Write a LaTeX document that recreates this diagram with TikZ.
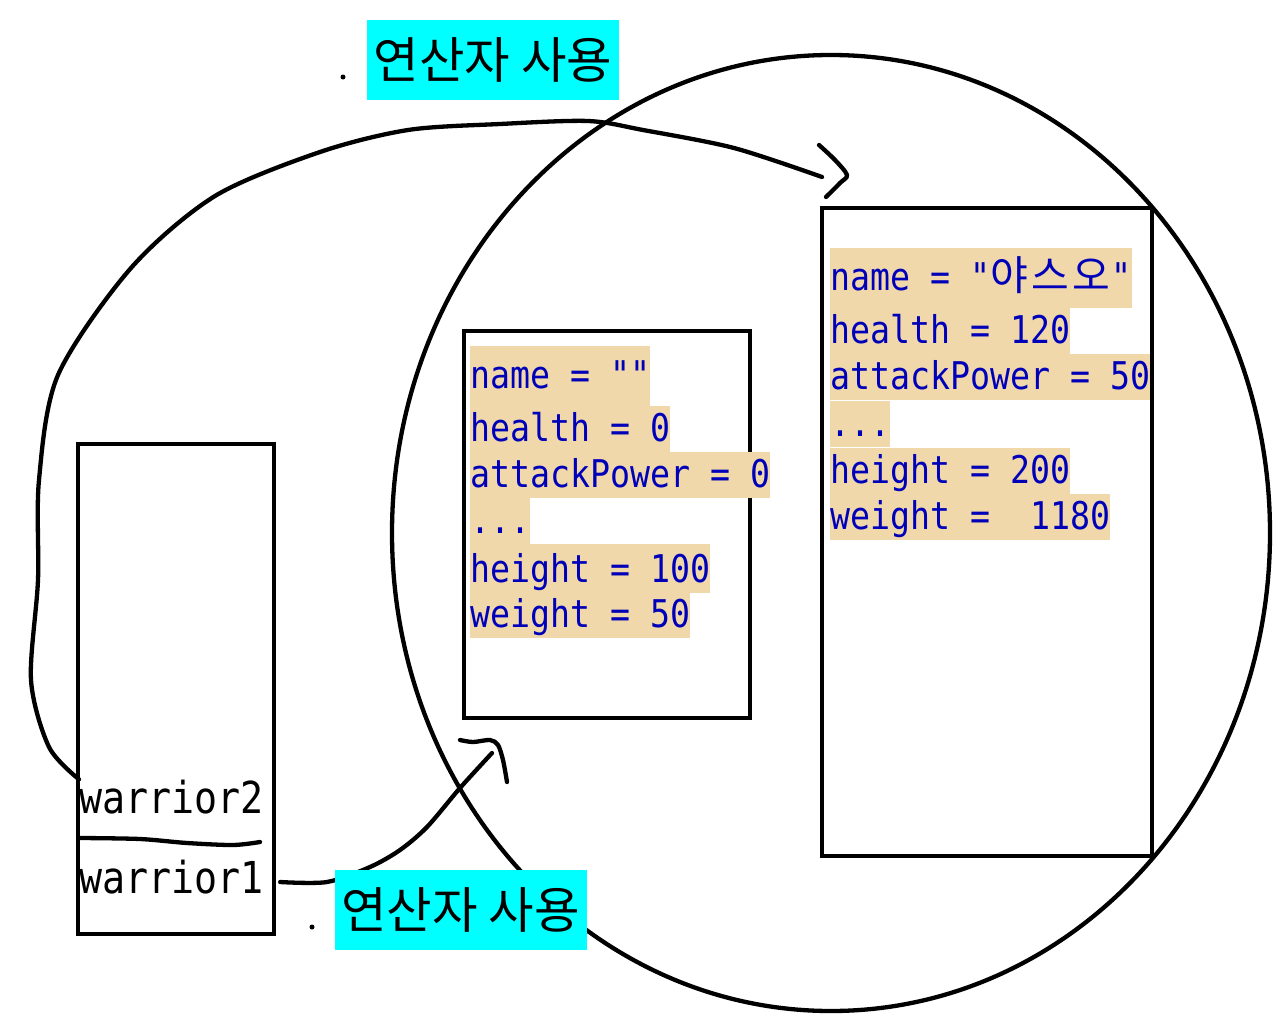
\documentclass[tikz,border=0pt]{standalone}
\usepackage{fontspec}
\newfontfamily\codefam[FakeStretch=0.87]{DejaVu Sans Mono}
\newfontfamily\kofam{Noto Sans CJK KR}
\definecolor{codeblue}{RGB}{0,0,185}
\definecolor{codebg}{RGB}{240,216,170}
\definecolor{labelcyan}{RGB}{0,255,255}
\newcommand\codefont{\codefam\fontsize{38.2}{44}\selectfont}
\newcommand\warfont{\codefam\fontsize{44}{50}\selectfont}
\newcommand\labfont{\kofam\fontsize{49.5}{54}\selectfont}
\newcommand\hangul[1]{{\kofam\fontsize{41}{44}\selectfont\addfontfeature{LetterSpace=8}#1\kern2pt}}
\begin{document}
\begin{tikzpicture}[x=1pt,y=-1pt,
  stroke/.style={line width=4.3pt, line cap=round, line join=round},
  membox/.style={draw, line width=4.3pt, rectangle, inner sep=0pt},
  codeline/.style={font=\codefont, text=codeblue, fill=codebg, inner sep=0pt, anchor=base west, text height=35pt, text depth=11pt},
  firstline/.style={codeline, text height=42pt, text depth=18pt},
  varname/.style={font=\warfont, text=black, inner sep=0pt, anchor=base west},
  oplabel/.style={fill=labelcyan, font=\labfont, inner sep=0pt, minimum width=252pt, minimum height=80pt},
  dotmark/.style={circle, fill=black, inner sep=0pt, minimum size=5pt}]
\useasboundingbox (0,0) rectangle (1280,1017);
\fill[white] (0,0) rectangle (1280,1017);

% memory boxes
\node[membox, minimum width=196pt, minimum height=490pt] (wbox) at (176,689) {};
\node[membox, minimum width=286pt, minimum height=387pt] (objA) at (607,524.5) {};
\node[membox, minimum width=330pt, minimum height=648pt] (objB) at (987,532) {};

% variable names
\node[varname] (w2) at (79,813) {warrior2};
\node[varname] (w1) at (79,893) {warrior1};

% big hand-drawn circle
\draw[stroke] (831,533) ellipse [x radius=439pt, y radius=478pt];

% arrow warrior2 -> objB
\draw[stroke] plot[smooth] coordinates {
 (w2.north west) (49,747) (31,680) (38,580) (39,480) (58,375)
 (131,268) (215,196) (320,152) (408,130) (500,124) (588,121) (643,130)
 (734,148) (822,177)};
\coordinate (tipB) at (847,175);
\draw[stroke] plot[smooth] coordinates {(819,145) (835,160) (tipB) (840,183) (826,197)};

% divider between variables
\draw[stroke] plot[smooth] coordinates {(80,838) (140,839) (187,843) (233,845) (260,842)};

% arrow warrior1 -> objA
\coordinate (w1out) at ([xshift=4pt]wbox.east |- 0,882);
\draw[stroke] plot[smooth] coordinates {
 (w1out) (327,882) (370,867) (400,850) (427,827) (460,788) (492,753)};
\coordinate (tipA) at (498,745);
\draw[stroke] plot[smooth] coordinates {(460,740) (473,742) (490,740) (tipA) (503,760) (507,782)};

% object A fields
\node[firstline] (a1) at (470,388) {name = ""};
\node[codeline] (a2) at (470,441) {health = 0};
\node[codeline] (a3) at (470,487) {attackPower = 0};
\node[codeline] (a4) at (470,533) {...};
\node[codeline, text height=38pt] (a5) at (470,582) {height = 100};
\node[codeline] (a6) at (470,627) {weight = 50};

% object B fields
\node[firstline] (b1) at (830,290) {name = "\hangul{야스오}"};
\node[codeline] (b2) at (830,343) {health = 120};
\node[codeline] (b3) at (830,389) {attackPower = 50};
\node[codeline] (b4) at (830,436) {...};
\node[codeline] (b5) at (830,483) {height = 200};
\node[codeline] (b6) at (830,529) {weight = \ 1180};

% operator labels
\node[oplabel] (opTop) at (493,60) {연산자 사용};
\node[oplabel] (opBot) at (460.5,910) {연산자 사용};
\node[dotmark] (dotTop) at (343,77) {};
\node[dotmark] (dotBot) at (312,927) {};
\end{tikzpicture}
\end{document}
